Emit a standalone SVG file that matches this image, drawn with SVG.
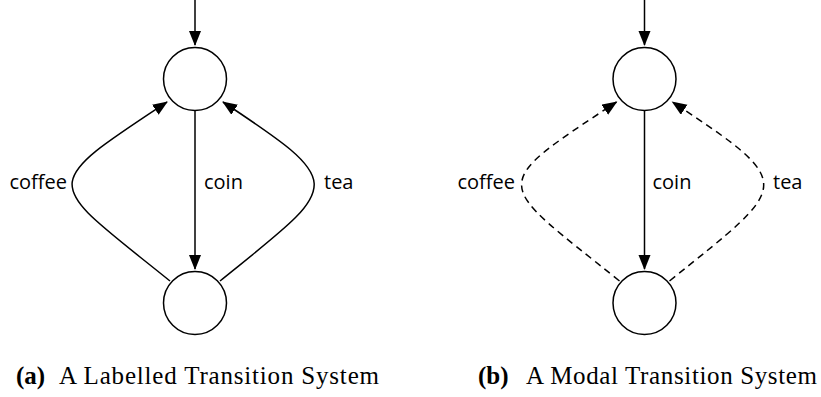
<svg xmlns="http://www.w3.org/2000/svg" width="821" height="397" viewBox="0 0 821 397">
  <style>
    .state { fill: #fff; stroke: #000; stroke-width: 1.5; }
    .edge { fill: none; stroke: #000; stroke-width: 1.5; }
    .may { stroke-dasharray: 7 5; }
    .lbl { font-family: "Open Sans", "DejaVu Sans", sans-serif; font-size: 20px; fill: #000; }
    .cap { font-family: "Liberation Serif", "Times New Roman", serif; font-size: 25px; fill: #000; }
    .capb { font-weight: bold; }
  </style>
  <defs>
    <marker id="arrow" markerUnits="userSpaceOnUse" markerWidth="16" markerHeight="14" refX="14" refY="6" orient="auto">
      <path d="M0,0 L15,6 L0,12 Z" fill="#000"/>
    </marker>
  </defs>
  <rect width="821" height="397" fill="#fff"/>

  <!-- (a) labelled transition system -->
  <g id="lts-edges">
    <path class="edge" d="M195,0 L195,45" marker-end="url(#arrow)"/>
    <path class="edge" d="M195,111 L195,269" marker-end="url(#arrow)"/>
    <path class="edge" d="M170,281 C45,180 35,189 167,102" marker-end="url(#arrow)"/>
    <path class="edge" d="M220,281 C340,184 350,186 223,102" marker-end="url(#arrow)"/>
  </g>
  <g id="lts-s0"><circle class="state" cx="195" cy="79" r="31.5"/></g>
  <g id="lts-s1"><circle class="state" cx="195" cy="303" r="31.5"/></g>
  <g id="lts-labels">
    <text class="lbl" x="67" y="189" text-anchor="end">coffee</text>
    <text class="lbl" x="204" y="189">coin</text>
    <text class="lbl" x="324" y="189">tea</text>
  </g>

  <!-- (b) modal transition system -->
  <g id="mts-edges">
    <path class="edge" d="M644.5,0 L644.5,45" marker-end="url(#arrow)"/>
    <path class="edge" d="M644.5,111 L644.5,269" marker-end="url(#arrow)"/>
    <path class="edge may" d="M619.5,281 C494.5,180 484.5,189 616.5,102" marker-end="url(#arrow)"/>
    <path class="edge may" d="M669.5,281 C789.5,184 799.5,186 672.5,102" marker-end="url(#arrow)"/>
  </g>
  <g id="mts-s0"><circle class="state" cx="644.5" cy="79" r="31.5"/></g>
  <g id="mts-s1"><circle class="state" cx="644.5" cy="303" r="31.5"/></g>
  <g id="mts-labels">
    <text class="lbl" x="515" y="189" text-anchor="end">coffee</text>
    <text class="lbl" x="652.5" y="189">coin</text>
    <text class="lbl" x="773" y="189">tea</text>
  </g>

  <!-- captions -->
  <g id="captions">
    <text class="cap capb" x="16" y="384">(a)</text>
    <text class="cap" x="59" y="384" textLength="320" lengthAdjust="spacing">A Labelled Transition System</text>
    <text class="cap capb" x="478" y="384">(b)</text>
    <text class="cap" x="526" y="384" textLength="291" lengthAdjust="spacing">A Modal Transition System</text>
  </g>
</svg>
